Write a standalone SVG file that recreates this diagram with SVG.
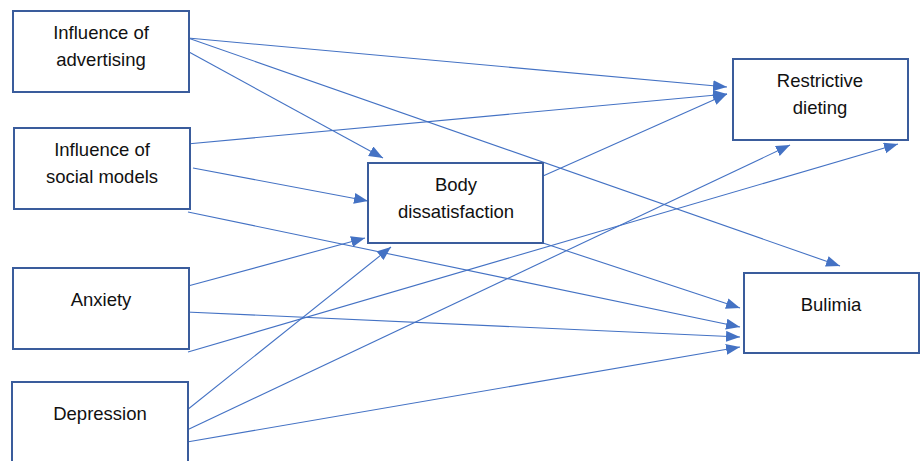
<svg xmlns="http://www.w3.org/2000/svg" width="920" height="461" viewBox="0 0 920 461">
<style>
.box{fill:#fff;stroke:#3A5C9C;stroke-width:2}
.lbl{font-family:"Liberation Sans",Arial,sans-serif;font-size:18.5px;fill:#111;text-anchor:middle}
.c{stroke:#4472C4;stroke-width:1.1;fill:none;marker-end:url(#ah)}
</style>
<defs>
<marker id="ah" markerUnits="userSpaceOnUse" markerWidth="15" markerHeight="12" refX="14" refY="5.5" orient="auto">
<path d="M0,0 L14,5.5 L0,11 z" fill="#4472C4"/>
</marker>
</defs>
<rect width="920" height="461" fill="#fff"/>
<g id="connectors">
<line class="c" x1="188" y1="38" x2="727" y2="87"/>
<line class="c" x1="188" y1="38" x2="840" y2="266"/>
<line class="c" x1="189" y1="52" x2="383" y2="158"/>
<line class="c" x1="187" y1="144" x2="727" y2="94"/>
<line class="c" x1="193" y1="168" x2="368" y2="201"/>
<line class="c" x1="188" y1="212" x2="740" y2="327"/>
<line class="c" x1="188" y1="286" x2="365" y2="238"/>
<line class="c" x1="186" y1="312" x2="740" y2="337"/>
<line class="c" x1="188" y1="352" x2="898" y2="144"/>
<line class="c" x1="187" y1="410" x2="391" y2="247"/>
<line class="c" x1="187" y1="430" x2="790" y2="145"/>
<line class="c" x1="187" y1="442" x2="740" y2="347"/>
<line class="c" x1="543" y1="176" x2="727" y2="94"/>
<line class="c" x1="543" y1="243" x2="740" y2="308"/>
</g>
<g id="advertising">
<rect class="box" x="13" y="11" width="176" height="81"/>
<text class="lbl" x="101" y="39">Influence of</text>
<text class="lbl" x="101" y="66">advertising</text>
</g>
<g id="social">
<rect class="box" x="14" y="128" width="176" height="81"/>
<text class="lbl" x="102" y="156">Influence of</text>
<text class="lbl" x="102" y="183">social models</text>
</g>
<g id="anxiety">
<rect class="box" x="13" y="268" width="176" height="81"/>
<text class="lbl" x="101" y="306">Anxiety</text>
</g>
<g id="depression">
<rect class="box" x="12" y="382" width="176" height="84"/>
<text class="lbl" x="100" y="420">Depression</text>
</g>
<g id="body">
<rect class="box" x="368" y="163" width="175" height="80"/>
<text class="lbl" x="456" y="191">Body</text>
<text class="lbl" x="456" y="218">dissatisfaction</text>
</g>
<g id="restrictive">
<rect class="box" x="733" y="59" width="175" height="81"/>
<text class="lbl" x="820" y="87">Restrictive</text>
<text class="lbl" x="820" y="114">dieting</text>
</g>
<g id="bulimia">
<rect class="box" x="744" y="273" width="175" height="80"/>
<text class="lbl" x="831" y="311">Bulimia</text>
</g>
</svg>
